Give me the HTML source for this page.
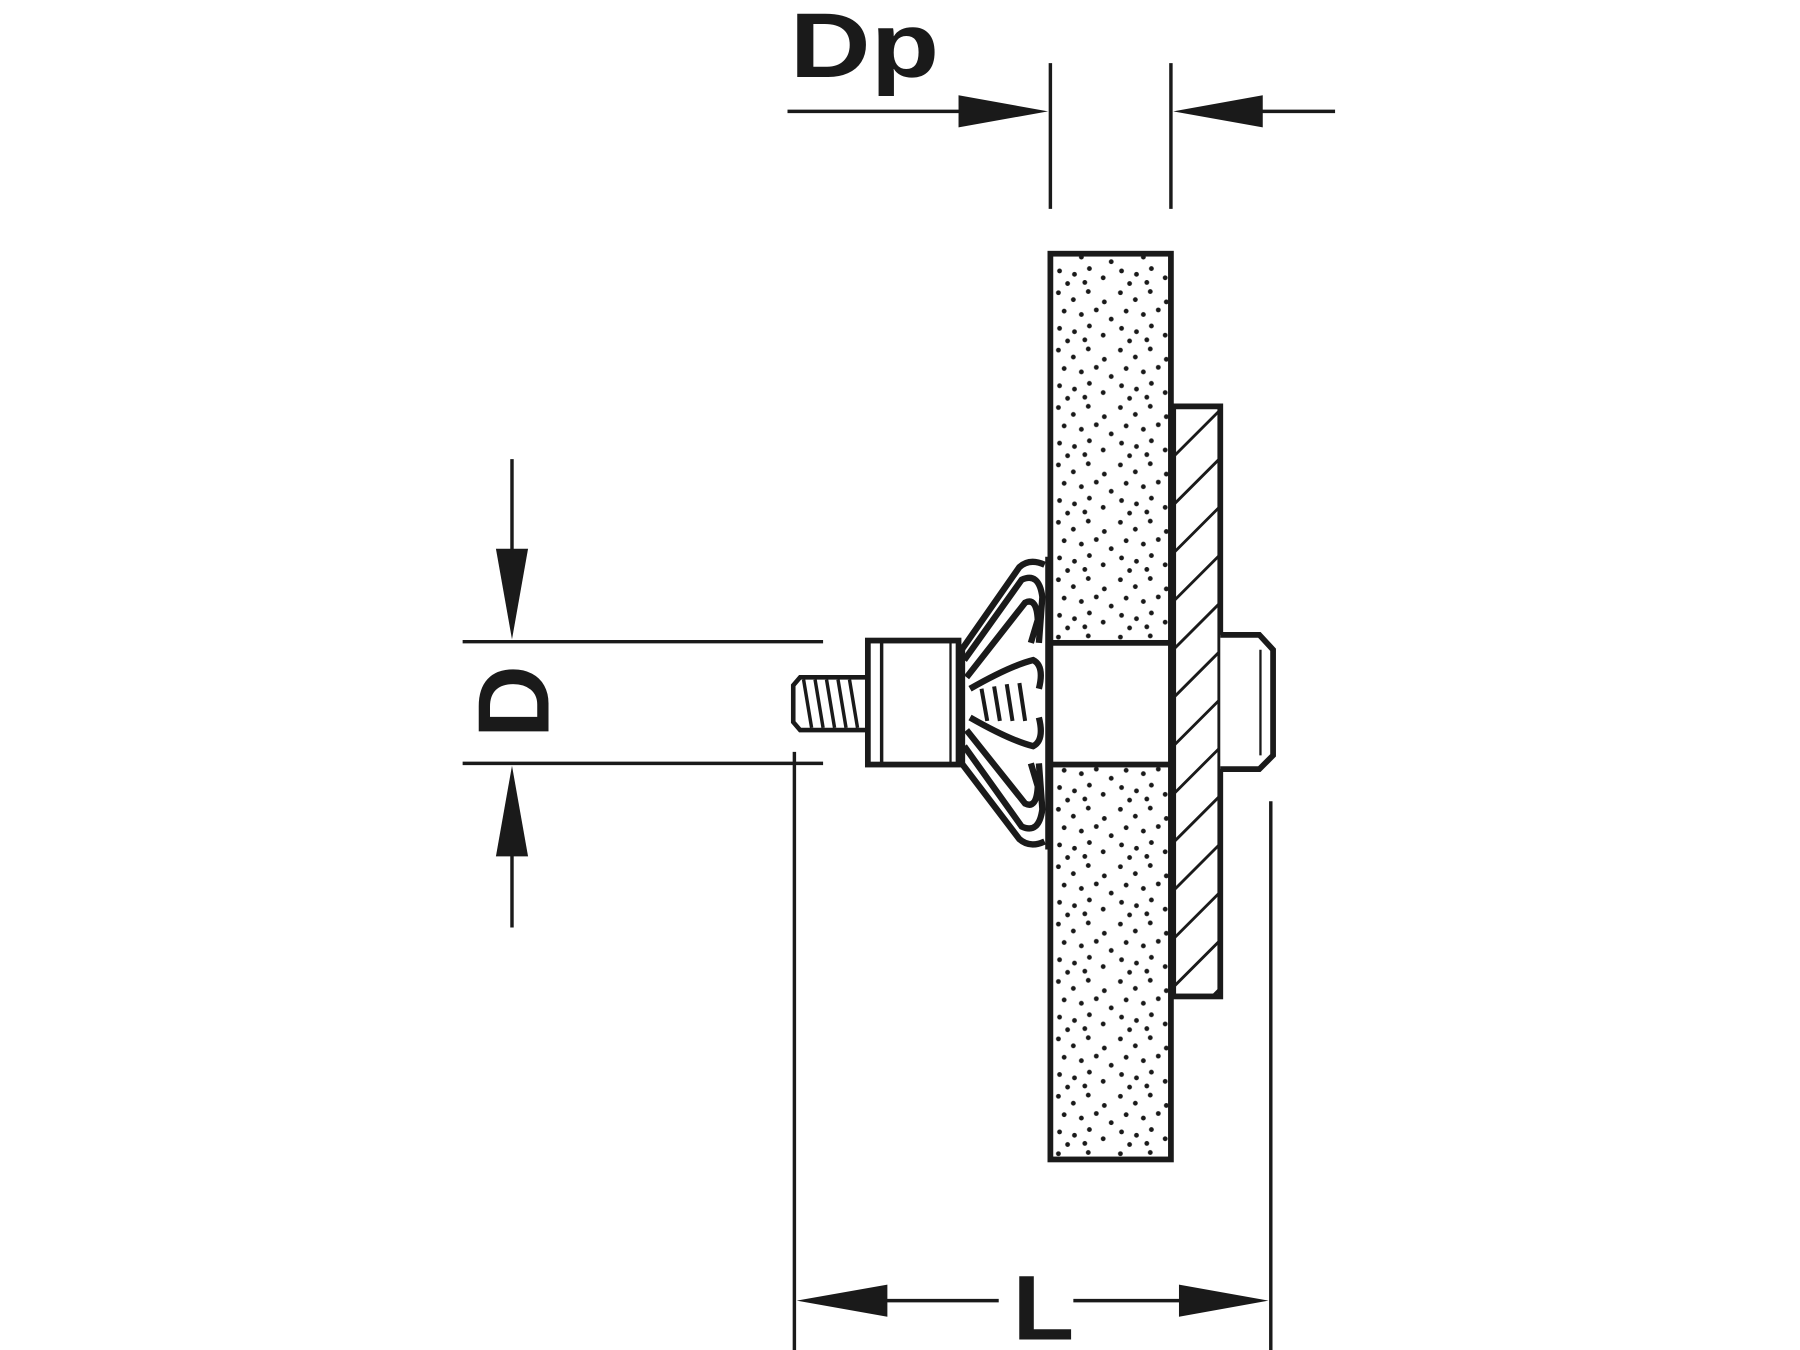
<!DOCTYPE html>
<html><head><meta charset="utf-8"><style>
html,body{margin:0;padding:0;background:#fff;}
svg{display:block;}
text{font-family:"Liberation Sans",sans-serif;font-weight:bold;fill:#1a1a1a;}
</style></head><body>
<svg width="1800" height="1350" viewBox="0 0 1568 1176" xmlns="http://www.w3.org/2000/svg">
<defs>
<pattern id="dots" width="54" height="50" patternUnits="userSpaceOnUse">
<g fill="#1a1a1a">
<circle cx="4" cy="5" r="2.1"/><circle cx="17" cy="11" r="2.1"/><circle cx="30" cy="4" r="2.1"/><circle cx="44" cy="13" r="2.1"/>
<circle cx="9" cy="21" r="2.1"/><circle cx="24" cy="24" r="2.1"/><circle cx="37" cy="20" r="2.1"/><circle cx="50" cy="28" r="2.1"/>
<circle cx="5" cy="36" r="2.1"/><circle cx="18" cy="39" r="2.1"/><circle cx="31" cy="34" r="2.1"/><circle cx="43" cy="42" r="2.1"/>
<circle cx="12" cy="47" r="2.1"/><circle cx="27" cy="46" r="2.1"/>
</g>
</pattern>
<clipPath id="plate"><rect x="1024" y="356" width="37" height="510"/></clipPath>
</defs>
<g stroke="#1a1a1a" fill="none" stroke-linecap="butt">
<line x1="915" y1="55" x2="915" y2="182" stroke-width="3"/>
<line x1="1020" y1="55" x2="1020" y2="182" stroke-width="3"/>
<line x1="686" y1="97" x2="840" y2="97" stroke-width="3"/>
<line x1="1095" y1="97" x2="1163" y2="97" stroke-width="3"/>
</g>
<polygon points="835,83 913,97 835,111" fill="#1a1a1a"/>
<polygon points="1100,83 1022,97 1100,111" fill="#1a1a1a"/>
<text x="0" y="0" font-size="80" transform="translate(688,67) scale(1.22,1)">Dp</text>

<rect x="915" y="221" width="105" height="789" fill="url(#dots)" stroke="#1a1a1a" stroke-width="5"/>
<rect x="915" y="560" width="105" height="106" fill="#fff" stroke="#1a1a1a" stroke-width="5"/>
<rect x="1022" y="354" width="41" height="514" fill="#fff" stroke="#1a1a1a" stroke-width="5"/>
<g clip-path="url(#plate)" stroke="#1a1a1a" stroke-width="2.5">
<line x1="1020" y1="400" x2="1065" y2="355"/><line x1="1020" y1="442" x2="1065" y2="397"/><line x1="1020" y1="484" x2="1065" y2="439"/>
<line x1="1020" y1="526" x2="1065" y2="481"/><line x1="1020" y1="568" x2="1065" y2="523"/><line x1="1020" y1="610" x2="1065" y2="565"/>
<line x1="1020" y1="652" x2="1065" y2="607"/><line x1="1020" y1="694" x2="1065" y2="649"/><line x1="1020" y1="736" x2="1065" y2="691"/>
<line x1="1020" y1="778" x2="1065" y2="733"/><line x1="1020" y1="820" x2="1065" y2="775"/><line x1="1020" y1="862" x2="1065" y2="817"/>
<line x1="1020" y1="904" x2="1065" y2="859"/>
</g>
<path d="M1063,553 H1097 L1109,566 V658 L1097,670 H1063" fill="#fff" stroke="#1a1a1a" stroke-width="5"/>
<line x1="1098" y1="566" x2="1098" y2="658" stroke="#1a1a1a" stroke-width="2"/>
<path d="M755,590 H697 L691,597 V629 L697,636 H755" fill="#fff" stroke="#1a1a1a" stroke-width="4"/>
<g stroke="#1a1a1a" stroke-width="3">
<line x1="700" y1="592" x2="707" y2="634"/><line x1="710" y1="592" x2="717" y2="634"/><line x1="720" y1="592" x2="727" y2="634"/>
<line x1="730" y1="592" x2="737" y2="634"/><line x1="740" y1="592" x2="747" y2="634"/>
</g>
<rect x="756" y="558" width="79" height="108" fill="#fff" stroke="#1a1a1a" stroke-width="5"/>
<line x1="768" y1="560" x2="768" y2="664" stroke="#1a1a1a" stroke-width="3"/>
<line x1="828" y1="560" x2="828" y2="664" stroke="#1a1a1a" stroke-width="2"/>
<g stroke="#1a1a1a" fill="none" stroke-width="5.5">
<path d="M837,567 L888,494 Q897,486 910,492"/>
<path d="M837,664 L888,731 Q897,739 910,733"/>
<path d="M840,575 L890,505 Q905,498 908,520 L905,560"/>
<path d="M840,650 L890,720 Q905,727 908,705 L905,665"/>
<path d="M842,590 L893,525 Q903,520 904,540 L898,560"/>
<path d="M842,636 L893,700 Q903,705 904,685 L898,665"/>
<path d="M845,600 Q880,580 900,575 Q910,580 905,600"/>
<path d="M845,625 Q880,645 900,650 Q910,645 905,625"/>
<line x1="838" y1="566" x2="838" y2="665"/>
</g>
<g stroke="#1a1a1a" stroke-width="3.5">
<line x1="855" y1="600" x2="860" y2="628"/><line x1="866" y1="598" x2="871" y2="628"/><line x1="877" y1="596" x2="882" y2="628"/><line x1="888" y1="595" x2="893" y2="628"/>
</g>
<line x1="913" y1="485" x2="913" y2="740" stroke="#1a1a1a" stroke-width="5"/>

<g stroke="#1a1a1a" stroke-width="3">
<line x1="403" y1="559" x2="717" y2="559"/>
<line x1="403" y1="665" x2="717" y2="665"/>
<line x1="446" y1="400" x2="446" y2="485"/>
<line x1="446" y1="740" x2="446" y2="808"/>
<line x1="692" y1="655" x2="692" y2="1176"/>
<line x1="1107" y1="698" x2="1107" y2="1176"/>
<line x1="760" y1="1133" x2="870" y2="1133"/>
<line x1="935" y1="1133" x2="1040" y2="1133"/>
</g>
<polygon points="432,478 446,557 460,478" fill="#1a1a1a"/>
<polygon points="432,746 446,667 460,746" fill="#1a1a1a"/>
<polygon points="773,1119 694,1133 773,1147" fill="#1a1a1a"/>
<polygon points="1027,1119 1105,1133 1027,1147" fill="#1a1a1a"/>
<text x="0" y="0" font-size="80" transform="translate(478,643) rotate(-90) scale(1.1,1.1)">D</text>
<text x="0" y="0" font-size="80" transform="translate(882,1167) scale(1.1,1)">L</text>
</svg>
</body></html>
